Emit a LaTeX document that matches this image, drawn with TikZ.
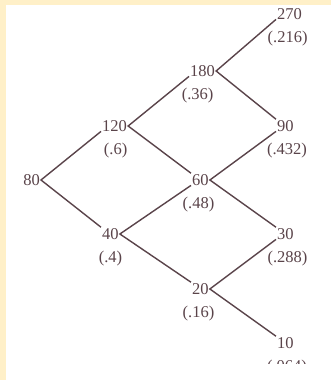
\documentclass[tikz,border=0pt]{standalone}
\usepackage{fontspec}
\setmainfont{Liberation Serif}
\usepackage{tikz}
\usetikzlibrary{positioning}

\definecolor{inkbrown}{RGB}{90,68,74}
\definecolor{paper}{RGB}{255,240,200}

\begin{document}
\begin{tikzpicture}[x=1pt, y=-1pt]
    % Define styles for the nodes
    \tikzstyle{num} = [
        inner sep=1pt, text=inkbrown,
        font=\fontsize{16.5}{18}\selectfont
    ]
    \tikzstyle{prob} = [
        inner sep=0pt, text=inkbrown,
        font=\fontsize{16.5}{18}\selectfont
    ]
    \tikzstyle{branch} = [inkbrown, line width=1.4pt]

    % Page
    \useasboundingbox (0,0) rectangle (331,380);
    \fill[paper] (0,0) rectangle (331,380);
    \fill[white] (6,5) rectangle (331,380);

    % Step 0
    \node[num, anchor=east]                 (n80)  at (41,180)  {80};

    % Step 1
    \node[num, anchor=west]                 (n120) at (101,126) {120};
    \node[num, anchor=west]                 (n40)  at (101,234) {40};

    \node[prob, below=10pt of n120, xshift=1pt]  (p120) {(.6)};
    \node[prob, below=10pt of n40]               (p40)  {(.4)};

    % Step 2
    \node[num, anchor=west]                 (n180) at (189,71)  {180};
    \node[num, anchor=west]                 (n60)  at (191,180) {60};
    \node[num, anchor=west]                 (n20)  at (191,289) {20};

    \node[prob, below=10pt of n180, xshift=-5pt] (p180) {(.36)};
    \node[prob, below=10pt of n60, xshift=-2pt]  (p60)  {(.48)};
    \node[prob, below=10pt of n20, xshift=-2pt]  (p20)  {(.16)};

    % Step 3
    \node[num, anchor=west]                 (n270) at (276,14)  {270};
    \node[num, anchor=west]                 (n90)  at (276,126) {90};
    \node[num, anchor=west]                 (n30)  at (276,234) {30};
    \node[num, anchor=west]                 (n10)  at (276,343) {10};

    \node[prob, below=10pt of n270, xshift=-2pt] (p270) {(.216)};
    \node[prob, below=10pt of n90, xshift=1.5pt] (p90)  {(.432)};
    \node[prob, below=10pt of n30, xshift=2pt]   (p30)  {(.288)};
    \begin{scope}
        \clip (250,350) rectangle (331,363);
        \node[prob, below=10pt of n10, xshift=1.5pt] (p10) {(.064)};
    \end{scope}

    % Branches from 80
    \draw[branch] (n120.base west) -- (n80.east) -- (n40.north west);

    % Branches from 120 and 40
    \draw[branch] (n180.base west) -- (n120.east) -- (n60.north west);
    \draw[branch] (n60.base west)  -- (n40.east)  -- (n20.north west);

    % Branches from 180, 60 and 20
    \draw[branch] (n270.base west) -- (n180.east) -- (n90.north west);
    \draw[branch] (n90.base west)  -- (n60.east)  -- (n30.north west);
    \draw[branch] (n30.base west)  -- (n20.east)  -- (n10.north west);

\end{tikzpicture}
\end{document}
